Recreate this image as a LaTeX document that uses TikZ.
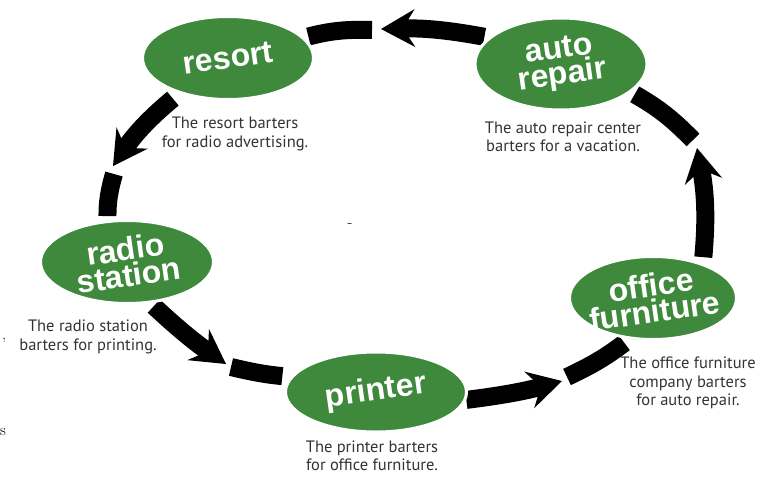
\documentclass[tikz,border=0pt]{standalone}
\usepackage{fontspec}
\newfontfamily\headfont{Liberation Sans}
\newfontfamily\notefont{PT Sans}
\usetikzlibrary{arrows.meta,shapes.geometric,backgrounds}
\definecolor{bartergreen}{RGB}{62,137,59}
\begin{document}
\begin{tikzpicture}[x=1pt,y=-1pt,
    hub/.style={ellipse,fill=bartergreen,draw=white,line width=3pt,inner sep=0pt},
    hubtext/.style={text=white,align=center,rotate=8,inner sep=0pt,font=\headfont\bfseries\fontsize{32}{26}\selectfont},
    note/.style={text=black!80,align=center,inner sep=0pt,font=\notefont\fontsize{16.5}{18.5}\selectfont},
    band/.style={line width=18pt,black},
    tip/.style={-{Stealth[length=34pt,width=38pt,inset=12pt,line width=0pt 0]}},
    stray/.style={inner sep=0pt,font=\fontsize{16}{16}\selectfont}]
    \useasboundingbox (0,0) rectangle (776,479);

    \node[hub,minimum width=172pt,minimum height=92pt] (0) at (561,64) {};
    \node[hub,minimum width=171pt,minimum height=83pt] (1) at (228,58) {};
    \node[hub,minimum width=173pt,minimum height=83pt] (2) at (127,262) {};
    \node[hub,minimum width=181pt,minimum height=80pt] (3) at (376,392) {};
    \node[hub,minimum width=167pt,minimum height=83pt] (4) at (653,298) {};

    \node[hubtext] (5) at (0) {auto\\repair};
    \node[hubtext] (6) at (1) {resort};
    \node[hubtext] (7) at (2) {radio\\station};
    \node[hubtext] (8) at (3) {printer};
    \node[hubtext] (9) at (4) {office\\furniture};

    \node[note] (10) at (563,137) {The auto repair center\\barters for a vacation.};
    \node[note] (11) at (235,134) {The resort barters\\for radio advertising.};
    \node[note] (12) at (88,337) {The radio station\\barters for printing.};
    \node[note] (13) at (372,456) {The printer barters\\for office furniture.};
    \node[note] (14) at (688,383) {The office furniture\\company barters\\for auto repair.};

    \coordinate (15) at (381,29);
    \coordinate (16) at (372,30);
    \coordinate (17) at (113,166);
    \coordinate (18) at (114,174);
    \coordinate (19) at (226,364);
    \coordinate (20) at (231,367);
    \coordinate (21) at (562,381);
    \coordinate (22) at (567,377);
    \coordinate (23) at (697,148);
    \coordinate (24) at (693,140);

    \node[stray] (25) at (4,340) {,};
    \node[stray] (26) at (3,432) {s};
    \node[stray] (27) at (350,226) {-};

    \begin{pgfonlayer}{background}
    \draw[band,tip,shorten <=4pt] (0.160) to[bend right=6] (15);
    \draw[band,shorten >=4pt] (16) to[bend right=8] (1.15);
    \draw[band,tip,shorten <=8pt] (1.-144) to[bend right=8] (17);
    \draw[band,shorten >=4pt] (18) to[bend right=8] (2.115);
    \draw[band,tip,shorten <=4pt] (2.-60) to[bend right=4] (19);
    \draw[band,shorten >=8pt] (20) to[bend right=4] (3.170);
    \draw[band,tip] (3.-5) to[bend right=4] (21);
    \draw[band,shorten >=6pt] (22) to[bend right=6] (4.-120);
    \draw[band,tip,shorten <=6pt] (4.35) to[bend right=8] (23);
    \draw[band,shorten >=4pt] (24) to[bend right=8] (0.-22);
    \end{pgfonlayer}
\end{tikzpicture}
\end{document}
